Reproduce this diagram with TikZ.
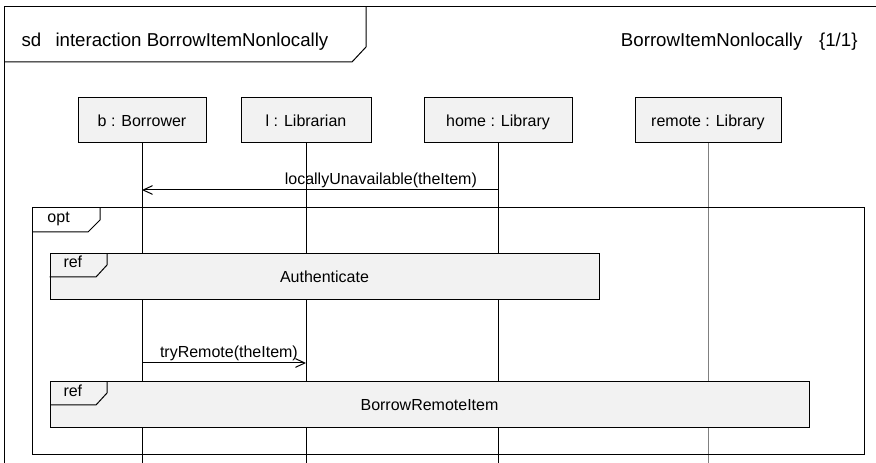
\documentclass[tikz,border=0pt]{standalone}
\usepackage{fontspec}
\setmainfont{Liberation Sans}
\usetikzlibrary{arrows.meta}
\definecolor{boxfill}{HTML}{F2F2F2}
\definecolor{lifegrey}{HTML}{808080}
\begin{document}
\begin{tikzpicture}[x=0.75pt,y=-0.75pt,
  line width=0.75pt,
  every node/.style={font=\fontsize{12}{14}\selectfont, inner sep=0pt},
  hdr/.style={font=\fontsize{14}{16}\selectfont},
  lifehead/.style={draw, fill=boxfill, minimum width=#1, minimum height=33.75pt,
    text height=8.6pt, text depth=0pt},
  refbox/.style={draw, fill=boxfill, text height=8.6pt, text depth=0pt},
  lifeline/.style={draw},
  msg/.style={-{Straight Barb[length=7pt,width=6.5pt]}},
  lbl/.style={anchor=base, yshift=3.75pt}
]
\useasboundingbox (0,0) rectangle (876,463);
\clip (0,0) rectangle (876,463);

% diagram frame and its heading
\draw (4,470) -- (4,7) -- (890,7);
\draw (4,62) -- (352,62) -- (366,47) -- (366,7);
\node[hdr, anchor=base west] (sd) at (21,47) {sd};
\node[hdr, anchor=base west] (title) at (55,47) {interaction BorrowItemNonlocally};
\node[hdr, anchor=base east] (name) at (803,47) {BorrowItemNonlocally};
\node[hdr, anchor=base east] (page) at (858,47) {\{1/1\}};

% lifeline heads
\node[lifehead=96pt]    (b) at (142,120.5) {b : Borrower};
\node[lifehead=97.5pt]  (l) at (306,120.5) {l : Librarian};
\node[lifehead=111pt]   (h) at (498,120.5) {home : Library};
\node[lifehead=109.5pt] (r) at (708,120.5) {remote : Library};

% lifelines
\coordinate (bottom) at (0,470);
\draw (b.south) -- (b |- bottom);
\draw (l.south) -- (l |- bottom);
\draw (h.south) -- (h |- bottom);
\draw[lifegrey] (r.south) -- (r |- bottom);

% first message
\coordinate (y1) at (0,190);
\draw[msg] (h |- y1) -- node[lbl, pos=0.329] {locallyUnavailable(theItem)} (b |- y1);

% opt fragment
\draw (32,208) rectangle (864,455);
\draw (32,232) -- (88,232) -- (100,220) -- (100,208);
\node[anchor=base west] (opt) at (47,223) {opt};

% ref: Authenticate
\node[refbox, minimum width=411.75pt, minimum height=34.5pt] (auth) at (324.5,277) {Authenticate};
\draw (auth.west |- 0,277) -- (96,277) -- (107,265) -- (107,254);
\node[anchor=base west] (ref1) at (63,268) {ref};

% second message
\coordinate (y2) at (0,363);
\draw[msg] (b |- y2) -- node[lbl, pos=0.53] {tryRemote(theItem)} (l |- y2);

% ref: BorrowRemoteItem
\node[refbox, minimum width=569.25pt, minimum height=34.5pt] (bri) at (429.5,405) {BorrowRemoteItem};
\draw (50,405) -- (96,405) -- (107,393) -- (107,382);
\node[anchor=base west] (ref2) at (63,397) {ref};
\end{tikzpicture}
\end{document}
